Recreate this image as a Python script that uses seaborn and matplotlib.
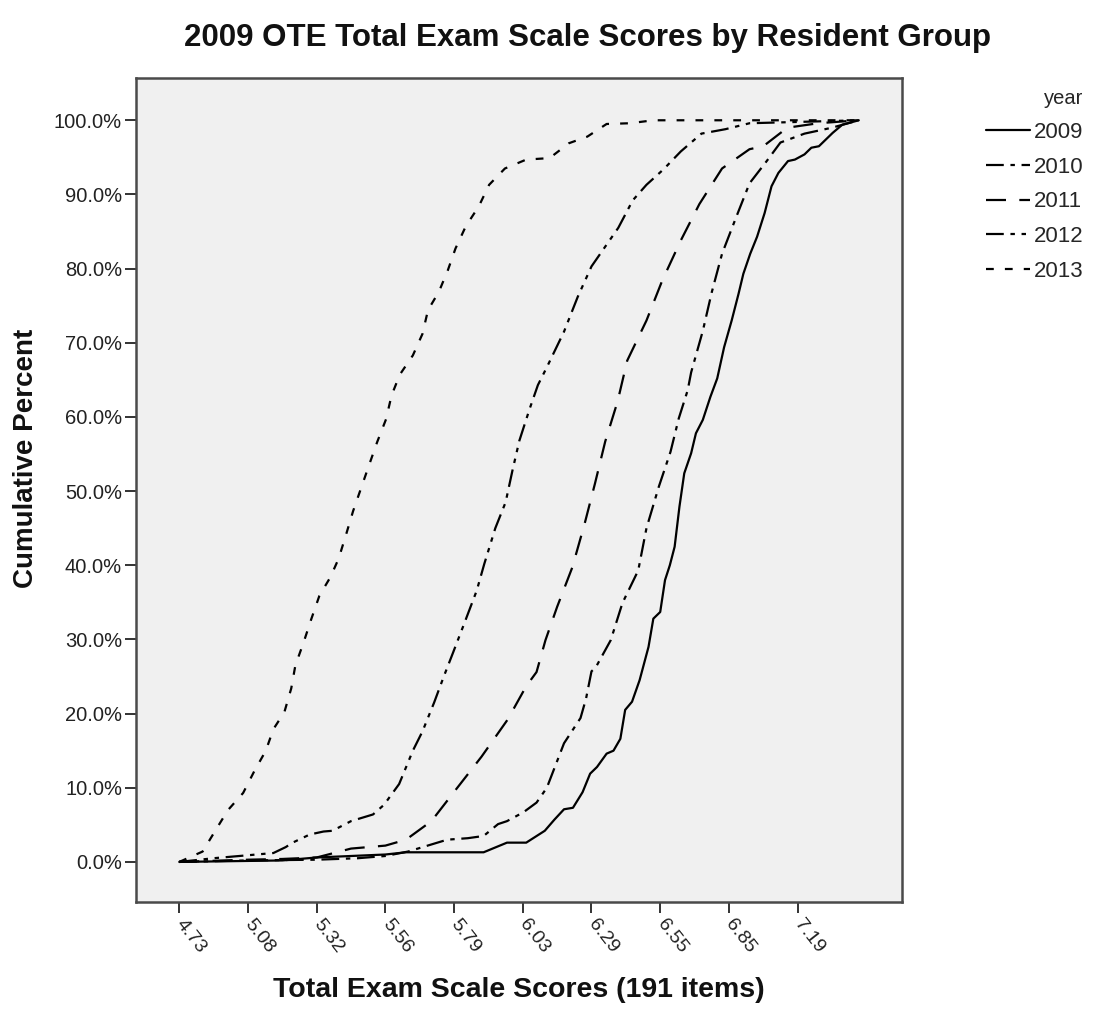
import matplotlib
matplotlib.use("Agg")
import matplotlib.pyplot as plt
import pandas as pd
import seaborn as sns

# x is the position along SPSS's category axis (tick index), y is cumulative percent
tick_labels = ["4.73", "5.08", "5.32", "5.56", "5.79", "6.03", "6.29", "6.55", "6.85", "7.19"]
years = ["2009", "2010", "2011", "2012", "2013"]

x2009 = [0, 1.5, 2.0, 3.0, 3.3, 4.43, 4.77, 5.05, 5.32, 5.46, 5.6, 5.73, 5.87, 5.98, 6.08,
         6.22, 6.32, 6.42, 6.49, 6.59, 6.7, 6.83, 6.9, 7.0, 7.07, 7.14, 7.21, 7.28, 7.35, 7.45,
         7.52, 7.62, 7.73, 7.83, 7.93, 8.04, 8.14, 8.21, 8.31, 8.41, 8.52, 8.62, 8.72, 8.86, 8.96,
         9.1, 9.2, 9.31, 9.51, 9.65, 9.89]
y2009 = [0, 0.2, 0.6, 1.0, 1.3, 1.3, 2.6, 2.6, 4.2, 5.7, 7.1, 7.3, 9.4, 11.9, 12.8,
         14.6, 15.0, 16.6, 20.5, 21.6, 24.5, 29.0, 32.8, 33.7, 38.0, 40.0, 42.5, 47.9, 52.4, 55.1,
         57.8, 59.6, 62.7, 65.2, 69.4, 73.0, 76.6, 79.3, 82.0, 84.3, 87.5, 91.1, 92.9, 94.5, 94.7,
         95.4, 96.3, 96.5, 98.3, 99.4, 100]

x2010 = [0, 1.0, 2.0, 2.6, 3.0, 3.33, 3.9, 4.2, 4.43, 4.64, 4.77, 5.01, 5.2, 5.35, 5.6,
         5.84, 5.92, 6.0, 6.06, 6.28, 6.45, 6.68, 6.8, 6.98, 7.15, 7.27, 7.4, 7.45, 7.62, 7.75,
         7.9, 8.1, 8.3, 8.55, 8.75, 9.1, 9.5, 9.89]
y2010 = [0, 0.2, 0.3, 0.5, 0.8, 1.4, 3.0, 3.2, 3.5, 5.1, 5.5, 6.7, 8.0, 10.0, 16.0,
         19.4, 22.0, 25.7, 26.2, 29.9, 34.9, 39.3, 45.0, 50.6, 55.3, 59.8, 63.6, 66.0, 71.6, 76.8,
         82.0, 86.8, 91.5, 94.5, 97.0, 98.2, 99.0, 100]

x2011 = [0, 1.0, 1.5, 2.0, 2.5, 3.0, 3.3, 3.67, 4.03, 4.4, 4.78, 5.05, 5.2, 5.33, 5.5,
         5.72, 5.9, 6.05, 6.2, 6.38, 6.52, 6.8, 7.03, 7.3, 7.57, 7.9, 8.3, 8.5, 8.85, 9.3, 9.89]
y2011 = [0, 0.3, 0.4, 0.6, 1.8, 2.2, 3.0, 5.5, 9.8, 14.2, 19.2, 23.7, 25.6, 29.9, 34.4,
         39.7, 45.6, 51.0, 56.7, 62.1, 67.6, 73.0, 78.4, 83.8, 88.7, 93.5, 96.1, 96.5, 99.0, 99.6, 100]

x2012 = [0, 0.5, 1.0, 1.37, 1.55, 1.65, 1.9, 2.1, 2.23, 2.5, 2.82, 2.98, 3.2, 3.4, 3.54,
         3.71, 3.85, 3.98, 4.15, 4.33, 4.44, 4.6, 4.75, 4.85, 4.95, 5.1, 5.22, 5.35, 5.6, 5.8,
         6.0, 6.39, 6.6, 6.8, 7.05, 7.3, 7.6, 7.95, 8.3, 9.89]
y2012 = [0, 0.5, 0.9, 1.2, 2.0, 2.6, 3.7, 4.1, 4.2, 5.5, 6.4, 7.7, 10.5, 15.0, 17.6,
         21.5, 25.0, 28.1, 32.2, 36.6, 40.2, 45.0, 48.5, 52.8, 56.8, 61.1, 64.3, 66.7, 71.5, 76.2,
         80.3, 85.5, 89.2, 91.3, 93.4, 95.8, 98.2, 98.8, 99.6, 100]

x2013 = [0, 0.34, 0.55, 0.71, 0.93, 1.09, 1.26, 1.37, 1.53, 1.63, 1.69, 1.81, 1.92, 2.04, 2.2,
         2.32, 2.43, 2.53, 2.65, 2.77, 2.88, 3.01, 3.09, 3.21, 3.4, 3.54, 3.62, 3.78, 3.91, 4.02,
         4.17, 4.36, 4.51, 4.74, 5.05, 5.39, 5.67, 5.94, 6.22, 6.56, 6.9, 9.89]
y2013 = [0, 1.4, 4.6, 7.0, 9.3, 12.2, 15.0, 17.9, 20.2, 23.4, 26.5, 29.6, 32.7, 35.9, 38.4,
         40.9, 44.2, 47.3, 50.5, 53.7, 56.6, 59.7, 62.9, 65.7, 68.3, 71.2, 74.4, 76.9, 79.8, 82.7,
         85.7, 88.4, 91.3, 93.5, 94.7, 94.9, 96.9, 97.8, 99.5, 99.6, 100, 100]

series = {"2009": (x2009, y2009), "2010": (x2010, y2010), "2011": (x2011, y2011),
          "2012": (x2012, y2012), "2013": (x2013, y2013)}
frames = []
for yr in years:
    xs, ys = series[yr]
    frames.append(pd.DataFrame({"pos": xs, "pct": ys, "year": yr}))
df = pd.concat(frames, ignore_index=True)

sns.set_style("ticks")
plt.rcParams["font.family"] = ["Liberation Sans", "DejaVu Sans"]

dashes = {
    "2009": "",
    "2010": (8, 3, 2, 3),
    "2011": (9, 6),
    "2012": (8, 3, 2, 3, 2, 3),
    "2013": (3.5, 5),
}
palette = {yr: "black" for yr in years}

fig = plt.figure(figsize=(11.09, 10.13), dpi=100)
ax = fig.add_axes([0.1226, 0.1096, 0.6908, 0.8134])
ax.set_facecolor("#f0f0f0")

sns.lineplot(data=df, x="pos", y="pct", hue="year", style="year", palette=palette,
             dashes=dashes, sort=False, estimator=None, linewidth=1.6, ax=ax)

ax.set_xlim(-0.63, 10.52)
ax.set_ylim(-5.4, 105.7)
ax.set_xticks(range(len(tick_labels)))
ax.set_xticklabels(tick_labels, rotation=-52, ha="left", va="center", rotation_mode="anchor",
                   fontsize=14, color="#222222")
ax.set_yticks(range(0, 101, 10))
ax.set_yticklabels([f"{v:.1f}%" for v in range(0, 101, 10)], fontsize=14.5, color="#222222")
ax.tick_params(axis="both", direction="out", length=8, width=1.4, color="#333333")
ax.tick_params(axis="x", pad=6)
ax.tick_params(axis="y", pad=2)
for sp in ax.spines.values():
    sp.set_visible(True)
    sp.set_color("#4a4a4a")
    sp.set_linewidth(1.8)

ax.set_xlabel("")
ax.set_ylabel("")
fig.text(0.468, 0.023, "Total Exam Scale Scores (191 items)", fontsize=20.5, fontweight="bold",
         ha="center", va="center", color="#111111")
fig.text(0.023, 0.548, "Cumulative Percent", fontsize=20, fontweight="bold", rotation=90,
         ha="center", va="center", color="#111111")
fig.text(0.53, 0.962, "2009 OTE Total Exam Scale Scores by Resident Group", fontsize=22.5,
         fontweight="bold", ha="center", va="center", color="#111111")

ax.legend_.remove()
handles, labels = ax.get_legend_handles_labels()
leg = fig.legend(handles, labels, title="year", loc="upper left", bbox_to_anchor=(0.889, 0.912),
                 frameon=False, fontsize=16, title_fontsize=14.5, handlelength=2.0,
                 handletextpad=0.15, labelspacing=0.62, borderaxespad=0, borderpad=0)
leg._legend_box.align = "right"

fig.savefig("out.png", dpi=100)
